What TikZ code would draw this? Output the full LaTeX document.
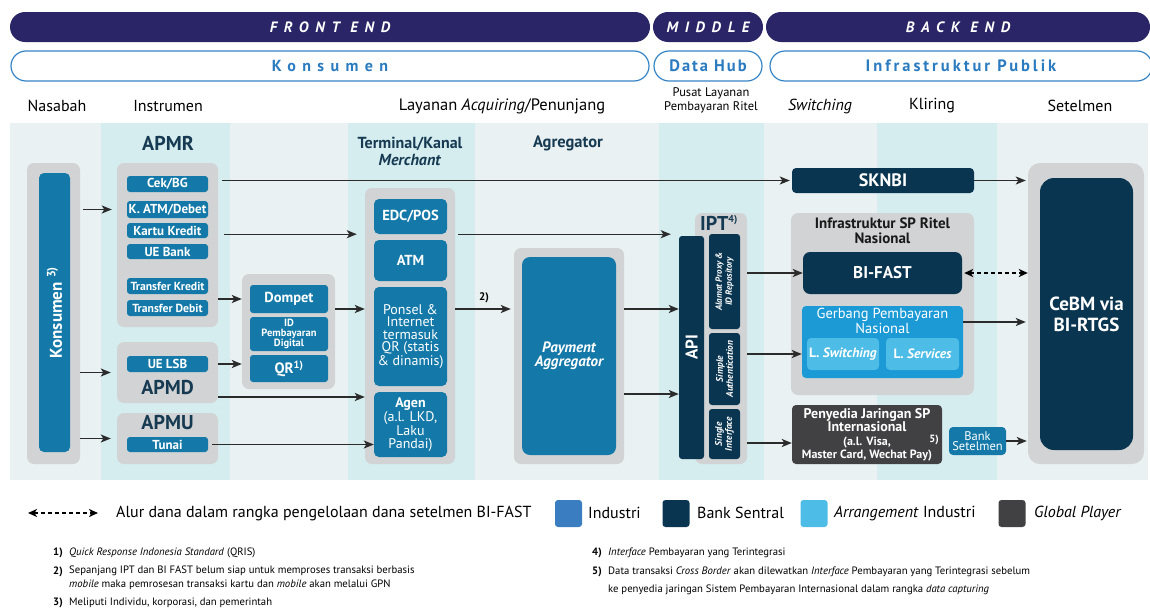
\documentclass[tikz,border=0pt]{standalone}
\usepackage{fontspec}
\setmainfont{PT Sans}
\usetikzlibrary{arrows.meta}
\definecolor{navy}{HTML}{2A2566}
\definecolor{oblue}{HTML}{3585C6}
\definecolor{tblue}{HTML}{2A7BC0}
\definecolor{indblue}{HTML}{1479A8}
\definecolor{bsnavy}{HTML}{0A3550}
\definecolor{gpn}{HTML}{1B9AD6}
\definecolor{arrlight}{HTML}{4DBCE6}
\definecolor{boxgray}{HTML}{D1D3D4}
\definecolor{gplayer}{HTML}{414042}
\definecolor{bandgray}{HTML}{EAF1F2}
\definecolor{bandcyan}{HTML}{D6EDF0}
\definecolor{headtxt}{HTML}{163A52}
\definecolor{legind}{HTML}{3B7DC1}
\definecolor{lineblk}{HTML}{2B2B2B}
\newcommand{\setfs}[2]{\fontsize{#1}{#2}\selectfont}

\begin{document}
\begin{tikzpicture}[x=1pt, y=-1pt,
    pill/.style={fill=navy, rounded corners=15pt, minimum height=30, inner sep=0, text=white,
      font=\bfseries\itshape\setfs{15}{16}\addfontfeatures{LetterSpace=45}},
    opill/.style={draw=oblue, line width=1.2pt, fill=white, rounded corners=15pt, minimum height=30, inner sep=0,
      text=tblue, font=\bfseries\setfs{16}{17}},
    col/.style={font=\setfs{16}{17}, inner sep=0},
    head/.style={text=headtxt, font=\bfseries\setfs{20}{21}, inner sep=0, align=center},
    grp/.style={fill=boxgray, rounded corners=7pt, inner sep=0},
    ind/.style={fill=indblue, rounded corners=3pt, text=white, inner sep=0, align=center,
      font=\bfseries\setfs{13}{14}},
    cb/.style={fill=bsnavy, rounded corners=5pt, text=white, inner sep=0, align=center,
      font=\bfseries\setfs{17}{18}},
    vtxt/.style={rotate=90, text=white, inner sep=0, align=center},
    arr/.style={draw=lineblk, line width=1.4pt, -{Stealth[length=10pt,width=8pt,inset=2.5pt]}},
    dsh/.style={draw=black, line width=2pt, dash pattern=on 4pt off 3pt,
      {Stealth[length=9pt,width=8pt,inset=2.5pt]}-{Stealth[length=9pt,width=8pt,inset=2.5pt]}},
    sw/.style={minimum size=27, rounded corners=3pt, inner sep=0},
    leg/.style={font=\setfs{16}{17}, inner sep=0, anchor=west},
    fn/.style={font=\setfs{10.7}{14}, inner sep=0, anchor=west, align=left},
    fnum/.style={font=\bfseries\setfs{10.7}{14}, inner sep=0, anchor=east}]

    \useasboundingbox (0,0) rectangle (1150,608);

    % column bands
    \foreach \xa/\xb/\c in {10/101/bandgray, 101/230/bandcyan, 230/348/bandgray, 348/475/bandcyan,
      475/659/bandgray, 659/764/bandcyan, 764/877/bandgray, 877/997/bandcyan, 997/1148/bandgray}
      \fill[\c] (\xa,123) rectangle (\xb,480);

    % top rows
    \node[pill, minimum width=640] (fe) at (330,27) {FRONT END};
    \node[pill, minimum width=110] (mid) at (708,27) {MIDDLE};
    \node[pill, minimum width=384] (be) at (958,27) {BACK END};
    \node[opill, minimum width=638, font=\bfseries\setfs{16}{17}\addfontfeatures{LetterSpace=40}] (kons-h) at (330,66) {Konsumen};
    \node[opill, minimum width=108, font=\bfseries\setfs{16.5}{17}\addfontfeatures{LetterSpace=12}] (hub) at (708,66) {Data Hub};
    \node[opill, minimum width=382, font=\bfseries\setfs{16.5}{17}\addfontfeatures{LetterSpace=18}] (pub) at (961,66) {Infrastruktur Publik};

    % column titles
    \node[col] (c1) at (57,106) {Nasabah};
    \node[col] (c2) at (168,106) {Instrumen};
    \node[col, font=\setfs{16.5}{17}] (c3) at (502,106) {Layanan \textit{Acquiring}/Penunjang};
    \node[col, font=\setfs{12.5}{14}, align=center] (c4) at (711,100) {Pusat Layanan\\Pembayaran Ritel};
    \node[col] (c5) at (820,106) {\textit{Switching}};
    \node[col] (c6) at (932,106) {Kliring};
    \node[col] (c7) at (1080,106) {Setelmen};

    % nasabah
    \node[grp, minimum width=53, minimum height=301] (konsbox) at (53.5,313.5) {};
    \node[ind, rounded corners=5pt, minimum width=31, minimum height=279] (kons) at (54.5,312.5) {};
    \node[vtxt, font=\bfseries\setfs{17}{18}] (konstxt) at (kons) {Konsumen \textsuperscript{3)}};

    % instrumen
    \node[head] (apmrtxt) at (168,143) {APMR};
    \node[grp, minimum width=101, minimum height=164] (apmr) at (167.5,245) {};
    \node[ind, minimum width=81, minimum height=16] (cek) at (167.5,184) {Cek/BG};
    \node[ind, minimum width=81, minimum height=17] (katm) at (167.5,209.5) {K. ATM/Debet};
    \node[ind, minimum width=81, minimum height=15] (kredit) at (167.5,230.5) {Kartu Kredit};
    \node[ind, minimum width=81, minimum height=15] (uebank) at (167.5,251.5) {UE Bank};
    \node[ind, minimum width=81, minimum height=16, font=\bfseries\setfs{11.7}{12}] (tkredit) at (167.5,286) {Transfer Kredit};
    \node[ind, minimum width=81, minimum height=16, font=\bfseries\setfs{11.7}{12}] (tdebit) at (167.5,308) {Transfer Debit};

    \node[grp, minimum width=101, minimum height=61] (apmd) at (167.5,372.5) {};
    \node[ind, minimum width=81, minimum height=16] (uelsb) at (167.5,364) {UE LSB};
    \node[head] (apmdtxt) at (167.5,388) {APMD};

    \node[grp, minimum width=101, minimum height=51] (apmu) at (167.5,438.5) {};
    \node[head] (apmutxt) at (167.5,423) {APMU};
    \node[ind, minimum width=81, minimum height=15] (tunai) at (167.5,444.5) {Tunai};

    \node[grp, minimum width=93, minimum height=115] (wallet) at (288.5,331.5) {};
    \node[ind, minimum width=78, minimum height=28, font=\bfseries\setfs{14.5}{15}] (dompet) at (289,299) {Dompet};
    \node[ind, minimum width=78, minimum height=34, font=\bfseries\setfs{10.5}{9.5}] (idpd) at (289,334) {ID\\Pembayaran\\Digital};
    \node[ind, minimum width=78, minimum height=27, font=\bfseries\setfs{15}{15}] (qr) at (289,368.5) {QR\textsuperscript{1)}};

    % terminal / kanal merchant
    \node[head, font=\bfseries\setfs{16}{17}] (termtxt) at (410,151) {Terminal/Kanal\\\textit{Merchant}};
    \node[grp, minimum width=90, minimum height=276] (term) at (410,326) {};
    \node[ind, rounded corners=5pt, minimum width=73, minimum height=35, font=\bfseries\setfs{14.5}{15}] (edc) at (410.5,216.5) {EDC/POS};
    \node[ind, rounded corners=5pt, minimum width=73, minimum height=41, font=\bfseries\setfs{14.5}{15}] (atm) at (410.5,260.5) {ATM};
    \node[ind, rounded corners=5pt, minimum width=73, minimum height=99, font=\setfs{14}{12.4}] (ponsel) at (410.5,336.5)
      {Ponsel \&\\Internet\\termasuk\\QR (statis\\\& dinamis)};
    \node[ind, rounded corners=5pt, minimum width=73, minimum height=65, font=\setfs{14}{12.4}] (agen) at (410.5,424.5)
      {\textbf{Agen}\\(a.l. LKD,\\Laku\\Pandai)};

    % agregator
    \node[head, font=\bfseries\setfs{16.5}{17}] (agrtxt) at (568,143) {Agregator};
    \node[grp, minimum width=110, minimum height=216] (pa) at (569,356) {};
    \node[ind, rounded corners=8pt, minimum width=94, minimum height=198, font=\bfseries\itshape\setfs{15}{14}] (pain) at (569,356)
      {Payment\\Aggregator};

    % IPT
    \node[grp, minimum width=52, minimum height=251] (ipt) at (721,338.5) {};
    \node[head, font=\bfseries\setfs{20}{21}] (ipttxt) at (719,223) {IPT\textsuperscript{\setfs{10}{10}4)}};
    \node[cb, rounded corners=3pt, minimum width=25, minimum height=223] (api) at (691.5,347.5) {};
    \node[vtxt, font=\bfseries\setfs{17}{18}] (apitxt) at (api) {API};
    \node[cb, rounded corners=3pt, minimum width=31, minimum height=95] (alamat) at (724.5,281.5) {};
    \node[vtxt, font=\bfseries\itshape\setfs{9}{10}] (alamattxt) at (alamat) {Alamat Proxy \&\\ID Repository};
    \node[cb, rounded corners=3pt, minimum width=31, minimum height=72] (auth) at (724.5,369) {};
    \node[vtxt, font=\bfseries\itshape\setfs{9.5}{10}] (authtxt) at (auth) {Simple\\Authentication};
    \node[cb, rounded corners=3pt, minimum width=31, minimum height=50] (single) at (724.5,434) {};
    \node[vtxt, font=\bfseries\itshape\setfs{9.5}{10}] (singletxt) at (single) {Single\\Interface};

    % switching / kliring
    \node[cb, rounded corners=4pt, minimum width=182, minimum height=25, font=\bfseries\setfs{18}{19}] (sknbi) at (883,180.5) {SKNBI};
    \node[grp, minimum width=183, minimum height=182] (infra) at (882.5,304) {};
    \node[inner sep=0, align=center, font=\bfseries\setfs{15}{15}, text=black!90] (infratxt) at (882.5,231) {Infrastruktur SP Ritel\\Nasional};
    \node[cb, rounded corners=7pt, minimum width=159, minimum height=42] (bifast) at (882.5,273) {BI-FAST};
    \node[cb, fill=gpn, rounded corners=4pt, minimum width=161, minimum height=72] (gerbang) at (882.5,342) {};
    \node[inner sep=0, align=center, text=white, font=\setfs{14.5}{13}] (gerbangtxt) at (882.5,321) {Gerbang Pembayaran\\Nasional};
    \node[cb, fill=arrlight, rounded corners=4pt, minimum width=72, minimum height=32, font=\bfseries\setfs{13.5}{14}] (lsw) at (843,354) {L. \textit{Switching}};
    \node[cb, fill=arrlight, rounded corners=4pt, minimum width=73, minimum height=32, font=\bfseries\setfs{13.5}{14}] (lsv) at (922.5,354) {L. \textit{Services}};

    \node[cb, fill=gplayer, rounded corners=4pt, minimum width=150, minimum height=59, font=\bfseries\setfs{14}{13}] (penyedia) at (867,434.5)
      {Penyedia Jaringan SP\\Internasional\\[1pt]{\setfs{12}{10}(a.l. Visa,}\\{\setfs{12}{10}Master Card, Wechat Pay)}};
    \node[inner sep=0, text=white, font=\bfseries\setfs{10.5}{10.5}] (n5) at (934,440) {5)};
    \node[ind, rounded corners=4pt, minimum width=57, minimum height=28, font=\setfs{12.5}{10.5}] (bank) at (977.5,441) {Bank\\Setelmen};

    % setelmen
    \node[grp, rounded corners=12pt, minimum width=116, minimum height=301] (cebmbox) at (1086,313.5) {};
    \node[cb, rounded corners=14pt, minimum width=93, minimum height=272, font=\bfseries\setfs{19}{21}] (cebm) at (1086.5,314) {CeBM via\\BI-RTGS};

    % levels
    \coordinate (y309) at (0,309);
    \coordinate (y322) at (0,322);
    \coordinate (y394) at (0,394);
    \coordinate (y397) at (0,397);
    \coordinate (y443) at (0,443);

    % connectors
    \draw[arr] ([xshift=3pt]konsbox.east |- katm) -- ([xshift=-5pt]apmr.west |- katm);
    \draw[arr] (konsbox.east |- apmd) -- ([xshift=-6pt]apmd.west);
    \draw[arr] (konsbox.east |- apmu) -- ([xshift=-6pt]apmu.west);
    \draw[arr] (apmr.east |- dompet) -- (wallet.west |- dompet);
    \draw[arr] (apmd.east |- uelsb) -- (wallet.west |- uelsb);
    \draw[arr] ([xshift=4pt]apmr.east |- sknbi) -- ([xshift=-2pt]sknbi.west);
    \draw[arr] ([xshift=6pt]apmr.east |- edc.south) -- ([xshift=-8pt]term.west |- edc.south);
    \draw[arr] ([xshift=3pt]term.east |- edc.south) -- ([xshift=-8pt]api.west |- edc.south);
    \draw[arr] (wallet.east |- y309) -- (term.west |- y309);
    \draw[arr] (apmd.east |- y397) -- (term.west |- y397);
    \draw[arr] ([xshift=4pt]tunai.east) -- (agen.west |- tunai.east);
    \draw[arr] (term.east |- y309) -- ([xshift=-3pt]pa.west |- y309);
    \node[inner sep=0, font=\bfseries\setfs{11}{11}] (n2) at (484,298) {2)};
    \draw[arr] (pa.east |- y309) -- (api.west |- y309);
    \draw[arr] (pa.east |- y394) -- (api.west |- y394);
    \draw[arr] (ipt.east |- bifast) -- (bifast.west);
    \draw[arr] (ipt.east |- lsw) -- (gerbang.west |- lsw);
    \draw[arr] (ipt.east |- y443) -- (penyedia.west |- y443);
    \draw[arr] (sknbi.east) -- ([xshift=-2pt]cebmbox.west |- sknbi.east);
    \draw[dsh] ([xshift=2pt]bifast.east) -- (cebmbox.west |- bifast.east);
    \draw[arr] (gerbang.east |- y322) -- ([xshift=-2pt]cebmbox.west |- y322);
    \draw[arr] (bank.east) -- ([xshift=-1pt]cebmbox.west |- bank.east);

    % legend
    \coordinate (l1) at (28,513);
    \coordinate (l2) at (98,513);
    \draw[dsh, line width=1.6pt] (l1) -- (l2);
    \node[leg] (t0) at (116,513) {Alur dana dalam rangka pengelolaan dana setelmen BI-FAST};
    \node[sw, fill=legind] (sw1) at (568.5,513.5) {};
    \node[leg] (t1) at (588,513) {Industri};
    \node[sw, fill=bsnavy] (sw2) at (676,513.5) {};
    \node[leg] (t2) at (697,513) {Bank Sentral};
    \node[sw, fill=arrlight] (sw3) at (814,513.5) {};
    \node[leg] (t3) at (834,513) {\textit{Arrangement} Industri};
    \node[sw, fill=gplayer] (sw4) at (1012,513.5) {};
    \node[leg] (t4) at (1034,513) {\textit{Global Player}};

    % notes
    \node[fnum] (f1n) at (63,553) {1)};
    \node[fn] (f1) at (69,553) {\textit{Quick Response Indonesia Standard} (QRIS)};
    \node[fnum] (f2n) at (63,572) {2)};
    \node[fn, anchor=north west] (f2) at (69,566) {Sepanjang IPT dan BI FAST belum siap untuk memproses transaksi berbasis\\\textit{mobile} maka pemrosesan transaksi kartu dan \textit{mobile} akan melalui GPN};
    \node[fnum] (f3n) at (63,603) {3)};
    \node[fn] (f3) at (69,603) {Meliputi Individu, korporasi, dan pemerintah};
    \node[fnum] (f4n) at (602,553) {4)};
    \node[fn] (f4) at (608,553) {\textit{Interface} Pembayaran yang Terintegrasi};
    \node[fnum] (f5n) at (602,572) {5)};
    \node[fn] (f5) at (608,572) {Data transaksi \textit{Cross Border} akan dilewatkan \textit{Interface} Pembayaran yang Terintegrasi sebelum};
    \node[fn] (f5b) at (608,590) {ke penyedia jaringan Sistem Pembayaran Internasional dalam rangka \textit{data capturing}};
\end{tikzpicture}
\end{document}
